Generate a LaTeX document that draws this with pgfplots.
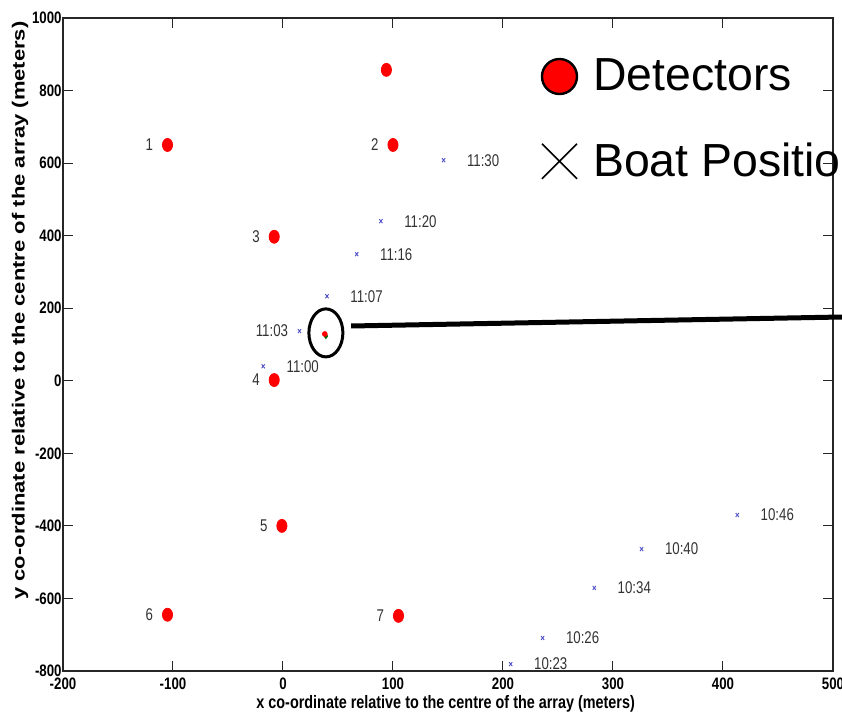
\documentclass[border=0pt]{standalone}
\usepackage{fontspec}
\usepackage{pgfplots}
\usepackage{pgfplotstable}
\pgfplotsset{compat=1.18}
\setmainfont{Liberation Sans}
% condensed faces for the axis texts
\newfontfamily\narrowsans[FakeStretch=0.8]{Liberation Sans}
\newfontfamily\labelsans[FakeStretch=0.78]{Liberation Sans}

\definecolor{boatblue}{RGB}{80,80,200}
\definecolor{labelgray}{RGB}{50,50,50}

% detector positions (m) with their numbers
\pgfplotstableread{
x y label
-105 650 1
100 650 2
-8 397 3
-8 2 4
-1 -400 5
-105 -645 6
105 -648 7
}\detectors

% boat positions (m) with the time of each fix
\pgfplotstableread{
x y label
146 608 11:30
89 440 11:20
67 349 11:16
40 233 11:07
-18 40 11:00
413 -370 10:46
326 -464 10:40
283 -571 10:34
236 -709 10:26
207 -781 10:23
}\boats

\begin{document}
\begin{tikzpicture}
\useasboundingbox (-31.5pt,-21pt) rectangle (389.5pt,335.5pt);
\clip (-31.5pt,-21pt) rectangle (389.5pt,335.5pt);
\begin{axis}[
  at={(0pt,0pt)}, anchor=south west,
  scale only axis, width=385pt, height=326.5pt,
  xmin=-200, xmax=500, ymin=-800, ymax=1000,
  xtick={-200,-100,...,500}, ytick={-800,-600,...,1000},
  tick align=inside, major tick length=5pt,
  axis line style={line width=0.6pt, black!85},
  tick style={line width=0.5pt, black!85},
  /pgf/number format/assume math mode=true,
  /pgf/number format/1000 sep={},
  tick label style={font=\narrowsans\bfseries\fontsize{8.3}{10}\selectfont},
  xticklabel style={inner sep=0pt, yshift=-3.5pt},
  yticklabel style={inner sep=0pt, xshift=-0.5pt},
  xlabel={x co-ordinate relative to the centre of the array (meters)},
  ylabel={\scalebox{1}[0.8]{y co-ordinate relative to the centre of the array (meters)}},
  xlabel style={font=\narrowsans\bfseries\fontsize{9}{11}\selectfont,
    at={(axis description cs:0.497,-0.0505)}, anchor=center},
  ylabel style={font=\bfseries\fontsize{11}{13}\selectfont,
    at={(axis description cs:-0.0558,0.552)}, anchor=center},
  clip=false,
  legend style={draw=none, fill=none, at={(0.62,0.95)}, anchor=north west,
    font=\fontsize{23.2}{28}\selectfont, row sep=16.5pt, column sep=3.5pt,
    inner sep=0pt, nodes={inner sep=4pt}},
  legend cell align=left,
]
% detectors
\addplot[only marks, mark=*, mark size=3.25pt,
  mark options={xscale=0.78, fill=red, draw=red},
  point meta=explicit symbolic, nodes near coords,
  nodes near coords align={left},
  nodes near coords style={font=\labelsans\fontsize{8.5}{10}\selectfont,
    text=labelgray, inner sep=0pt, xshift=-7pt},
  legend image code/.code={\draw[fill=red, draw=black, line width=1.2pt]
    (8.75pt,0pt) circle (8.75pt);}]
  table[meta=label] {\detectors};
\addlegendentry{Detectors}
% boat fixes
\addplot[only marks, mark=x, mark size=1.4pt, color=boatblue,
  mark options={xscale=0.8, line width=0.45pt},
  point meta=explicit symbolic, nodes near coords,
  nodes near coords align={right},
  nodes near coords style={font=\labelsans\fontsize{8.5}{10}\selectfont,
    text=labelgray, inner sep=0pt, xshift=11.5pt},
  legend image code/.code={\draw[black, line width=0.8pt]
    (0pt,-8.75pt) -- (17.5pt,8.75pt) (0pt,8.75pt) -- (17.5pt,-8.75pt);}]
  table[meta=label] {\boats};
\addlegendentry{Boat Positions}
% the 11:03 fix, labelled on its left
\addplot[forget plot, only marks, mark=x, mark size=1.4pt, color=boatblue,
  mark options={xscale=0.8, line width=0.45pt},
  point meta=explicit symbolic, nodes near coords,
  nodes near coords align={left},
  nodes near coords style={font=\labelsans\fontsize{8.5}{10}\selectfont,
    text=labelgray, inner sep=0pt, xshift=-5.5pt}]
  coordinates {(15,137) [11:03]};
% detector without a number
\addplot[forget plot, only marks, mark=*, mark size=3.25pt,
  mark options={xscale=0.78, fill=red, draw=red}]
  coordinates {(94,857)};
% located source inside the ring
\addplot[forget plot, only marks, mark=diamond*, mark size=1.2pt,
  color=black!60!green] coordinates {(39,123)};
\addplot[forget plot, only marks, mark=*, mark size=1.2pt,
  color=red] coordinates {(38,129)};
% ring and pointer line
\draw[line width=1.5pt] (axis cs:39,132) ellipse [x radius=8.5pt, y radius=12pt];
\draw[line width=2.5pt] (axis cs:62,151) -- (axis cs:530,177);
\end{axis}
\end{tikzpicture}
\end{document}
